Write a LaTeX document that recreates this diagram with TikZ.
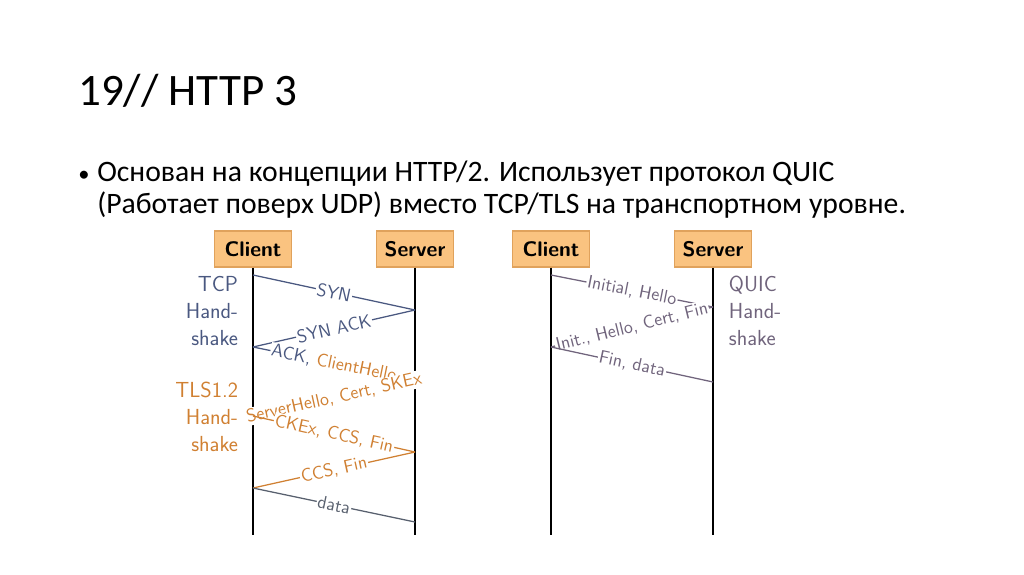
\documentclass[tikz,border=0pt]{standalone}
\usepackage{fontspec}
\setmainfont{Carlito}
\usetikzlibrary{positioning}
\definecolor{tcpblue}{RGB}{74,88,128}
\definecolor{tlsorange}{RGB}{208,128,50}
\definecolor{datagray}{RGB}{88,96,110}
\definecolor{quicgray}{RGB}{112,100,124}
\definecolor{boxfill}{RGB}{250,195,128}
\definecolor{boxdraw}{RGB}{224,162,92}
\begin{document}
\begin{tikzpicture}[
  x=0.025cm, y=-0.025cm,
  actor/.style={draw=boxdraw, fill=boxfill, line width=0.8pt, minimum width=1.93cm, minimum height=0.9cm, inner sep=2pt, font=\sffamily\bfseries\fontsize{15}{17}\selectfont},
  life/.style={line width=1.8pt},
  msg/.style={line width=0.9pt},
  lbl/.style={sloped, midway, fill=white, inner sep=0.8pt, font=\sffamily\fontsize{13}{15}\selectfont},
  side/.style={font=\sffamily\fontsize{15.5}{19}\selectfont}
]
\useasboundingbox (0,0) rectangle (1024,574);
% title and text
\node[anchor=base west, font=\fontsize{32}{38}\selectfont, inner sep=0pt] (title) at (78,105) {19// HTTP 3};
\node[anchor=base west, font=\fontsize{16}{20}\selectfont, inner sep=0pt] (bul) at (78,181) {•};
\node[anchor=base west, font=\fontsize{21.1}{25}\selectfont, inner sep=0pt] (line1) at (97,181) {Основан на концепции HTTP/2. Использует протокол QUIC};
\node[anchor=base west, font=\fontsize{21.1}{25}\selectfont, inner sep=0pt] (line2) at (97,213) {(Работает поверх UDP) вместо TCP/TLS на транспортном уровне.};
% actors
\node[actor] (cl) at (253,249) {Client};
\node[actor] (sv) at (415,249) {Server};
\node[actor] (qcl) at (551,249) {Client};
\node[actor] (qsv) at (713,249) {Server};
\coordinate (clend) at (253,535);
\coordinate (svend) at (415,535);
\coordinate (qclend) at (551,535);
\coordinate (qsvend) at (713,535);
\draw[life] (cl) -- (clend);
\draw[life] (sv) -- (svend);
\draw[life] (qcl) -- (qclend);
\draw[life] (qsv) -- (qsvend);
% side labels
\node[side, tcpblue, align=right, anchor=east] (tcp) at (243,311) {TCP\\Hand-\\shake};
\node[side, tlsorange, align=right, anchor=east] (tls) at (243,417) {TLS1.2\\Hand-\\shake};
\node[side, quicgray, align=left, anchor=west] (quic) at (724,311) {QUIC\\Hand-\\shake};
% message points
\coordinate (a1) at (253,275);
\coordinate (b1) at (415,310);
\coordinate (a2) at (253,347);
\coordinate (b2) at (415,380);
\coordinate (a3) at (253,416);
\coordinate (b3) at (415,452);
\coordinate (a4) at (253,488);
\coordinate (b4) at (415,522);
\coordinate (c1) at (551,275);
\coordinate (d1) at (713,307);
\coordinate (c2) at (551,347);
\coordinate (d2) at (713,382);
% TCP + TLS
\draw[msg, tcpblue] (a1) -- node[lbl] {SYN} (b1);
\draw[msg, tcpblue] (b1) -- node[lbl] {SYN ACK} (a2);
\draw[msg, tcpblue] (a2) -- node[lbl] {ACK, \textcolor{tlsorange}{ClientHello}} (b2);
\draw[msg, tlsorange] (b2) -- node[lbl] {ServerHello, Cert, SKEx} (a3);
\draw[msg, tlsorange] (a3) -- node[lbl] {CKEx, CCS, Fin} (b3);
\draw[msg, tlsorange] (b3) -- node[lbl] {CCS, Fin} (a4);
\draw[msg, datagray] (a4) -- node[lbl] {data} (b4);
% QUIC
\draw[msg, quicgray] (c1) -- node[lbl] {Initial, Hello} (d1);
\draw[msg, quicgray] (d1) -- node[lbl] {Init., Hello, Cert, Fin} (c2);
\draw[msg, quicgray] (c2) -- node[lbl] {Fin, data} (d2);
\end{tikzpicture}
\end{document}
